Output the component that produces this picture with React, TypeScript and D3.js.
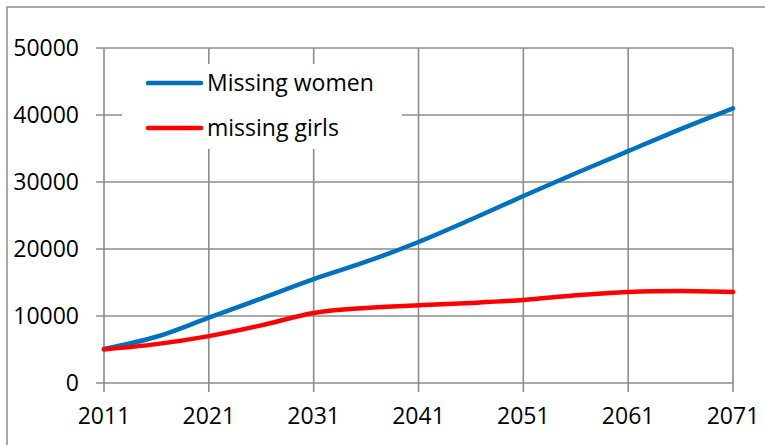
import React from "react";
import * as d3 from "d3";

const years = [2011, 2016, 2021, 2026, 2031, 2036, 2041, 2046, 2051, 2056, 2061, 2066, 2071];
const missingWomen = [5070, 6900, 9750, 12600, 15500, 18100, 21050, 24400, 27900, 31300, 34600, 37900, 41000];
const missingGirls = [5000, 5800, 7000, 8600, 10450, 11200, 11600, 11950, 12400, 13100, 13600, 13750, 13600];
const xTicks = [2011, 2021, 2031, 2041, 2051, 2061, 2071];
const yTicks = [0, 10000, 20000, 30000, 40000, 50000];
const seriesNames = ["Missing women", "missing girls"];
const seriesColors = ["#0070C0", "#FF0000"];

export default function App() {
  const W = 765, H = 445;
  const x = d3.scaleLinear().domain([2011, 2071]).range([104, 733]);
  const y = d3.scaleLinear().domain([0, 50000]).range([383, 48]);
  const grid = "#8c8c8c";
  const font = "'Open Sans', sans-serif";
  const line = d3
    .line<number>()
    .x((_, i) => x(years[i]))
    .y((d) => y(d))
    .curve(d3.curveCatmullRom.alpha(0.5));
  const series = [missingWomen, missingGirls];
  const legend = { x0: 122, x1: 402, y0: 64, y1: 149 };

  return (
    <svg width={W} height={H} style={{ position: "absolute", left: 0, top: 0, display: "block" }}>
      <rect x={0} y={0} width={W} height={H} fill="#fff" />
      <rect x={7} y={7} width={W + 10} height={H + 10} fill="none" stroke="#8c8c8c" strokeWidth={1.5} />
      {/* horizontal grid */}
      {yTicks.map((t) => (
        <line key={"h" + t} x1={96} x2={733} y1={y(t)} y2={y(t)} stroke={grid} strokeWidth={1.6} />
      ))}
      {/* vertical grid */}
      {xTicks.map((t) => (
        <line key={"v" + t} x1={x(t)} x2={x(t)} y1={48} y2={392} stroke={grid} strokeWidth={1.6} />
      ))}
      {/* legend box */}
      <rect x={legend.x0} y={legend.y0} width={legend.x1 - legend.x0} height={legend.y1 - legend.y0} fill="#fff" />
      {/* y labels */}
      {yTicks.map((t) => (
        <text key={"yl" + t} x={79} y={y(t)} dy="0.36em" textAnchor="end" fontFamily={font} fontSize={23} fill="#000">
          {t}
        </text>
      ))}
      {/* x labels */}
      {xTicks.map((t) => (
        <text key={"xl" + t} x={x(t)} y={424} textAnchor="middle" fontFamily={font} fontSize={23} fill="#000">
          {t}
        </text>
      ))}
      {/* series */}
      {series.map((s, i) => (
        <path key={"s" + i} d={line(s) || ""} fill="none" stroke={seriesColors[i]} strokeWidth={4.5} strokeLinecap="round" />
      ))}
      {/* legend entries */}
      {seriesNames.map((n, i) => (
        <g key={"lg" + i}>
          <line x1={148} x2={201} y1={83 + i * 45} y2={83 + i * 45} stroke={seriesColors[i]} strokeWidth={4.5} strokeLinecap="round" />
          <text x={207} y={91 + i * 45} fontFamily={font} fontSize={23} fill="#000">
            {n}
          </text>
        </g>
      ))}
    </svg>
  );
}
